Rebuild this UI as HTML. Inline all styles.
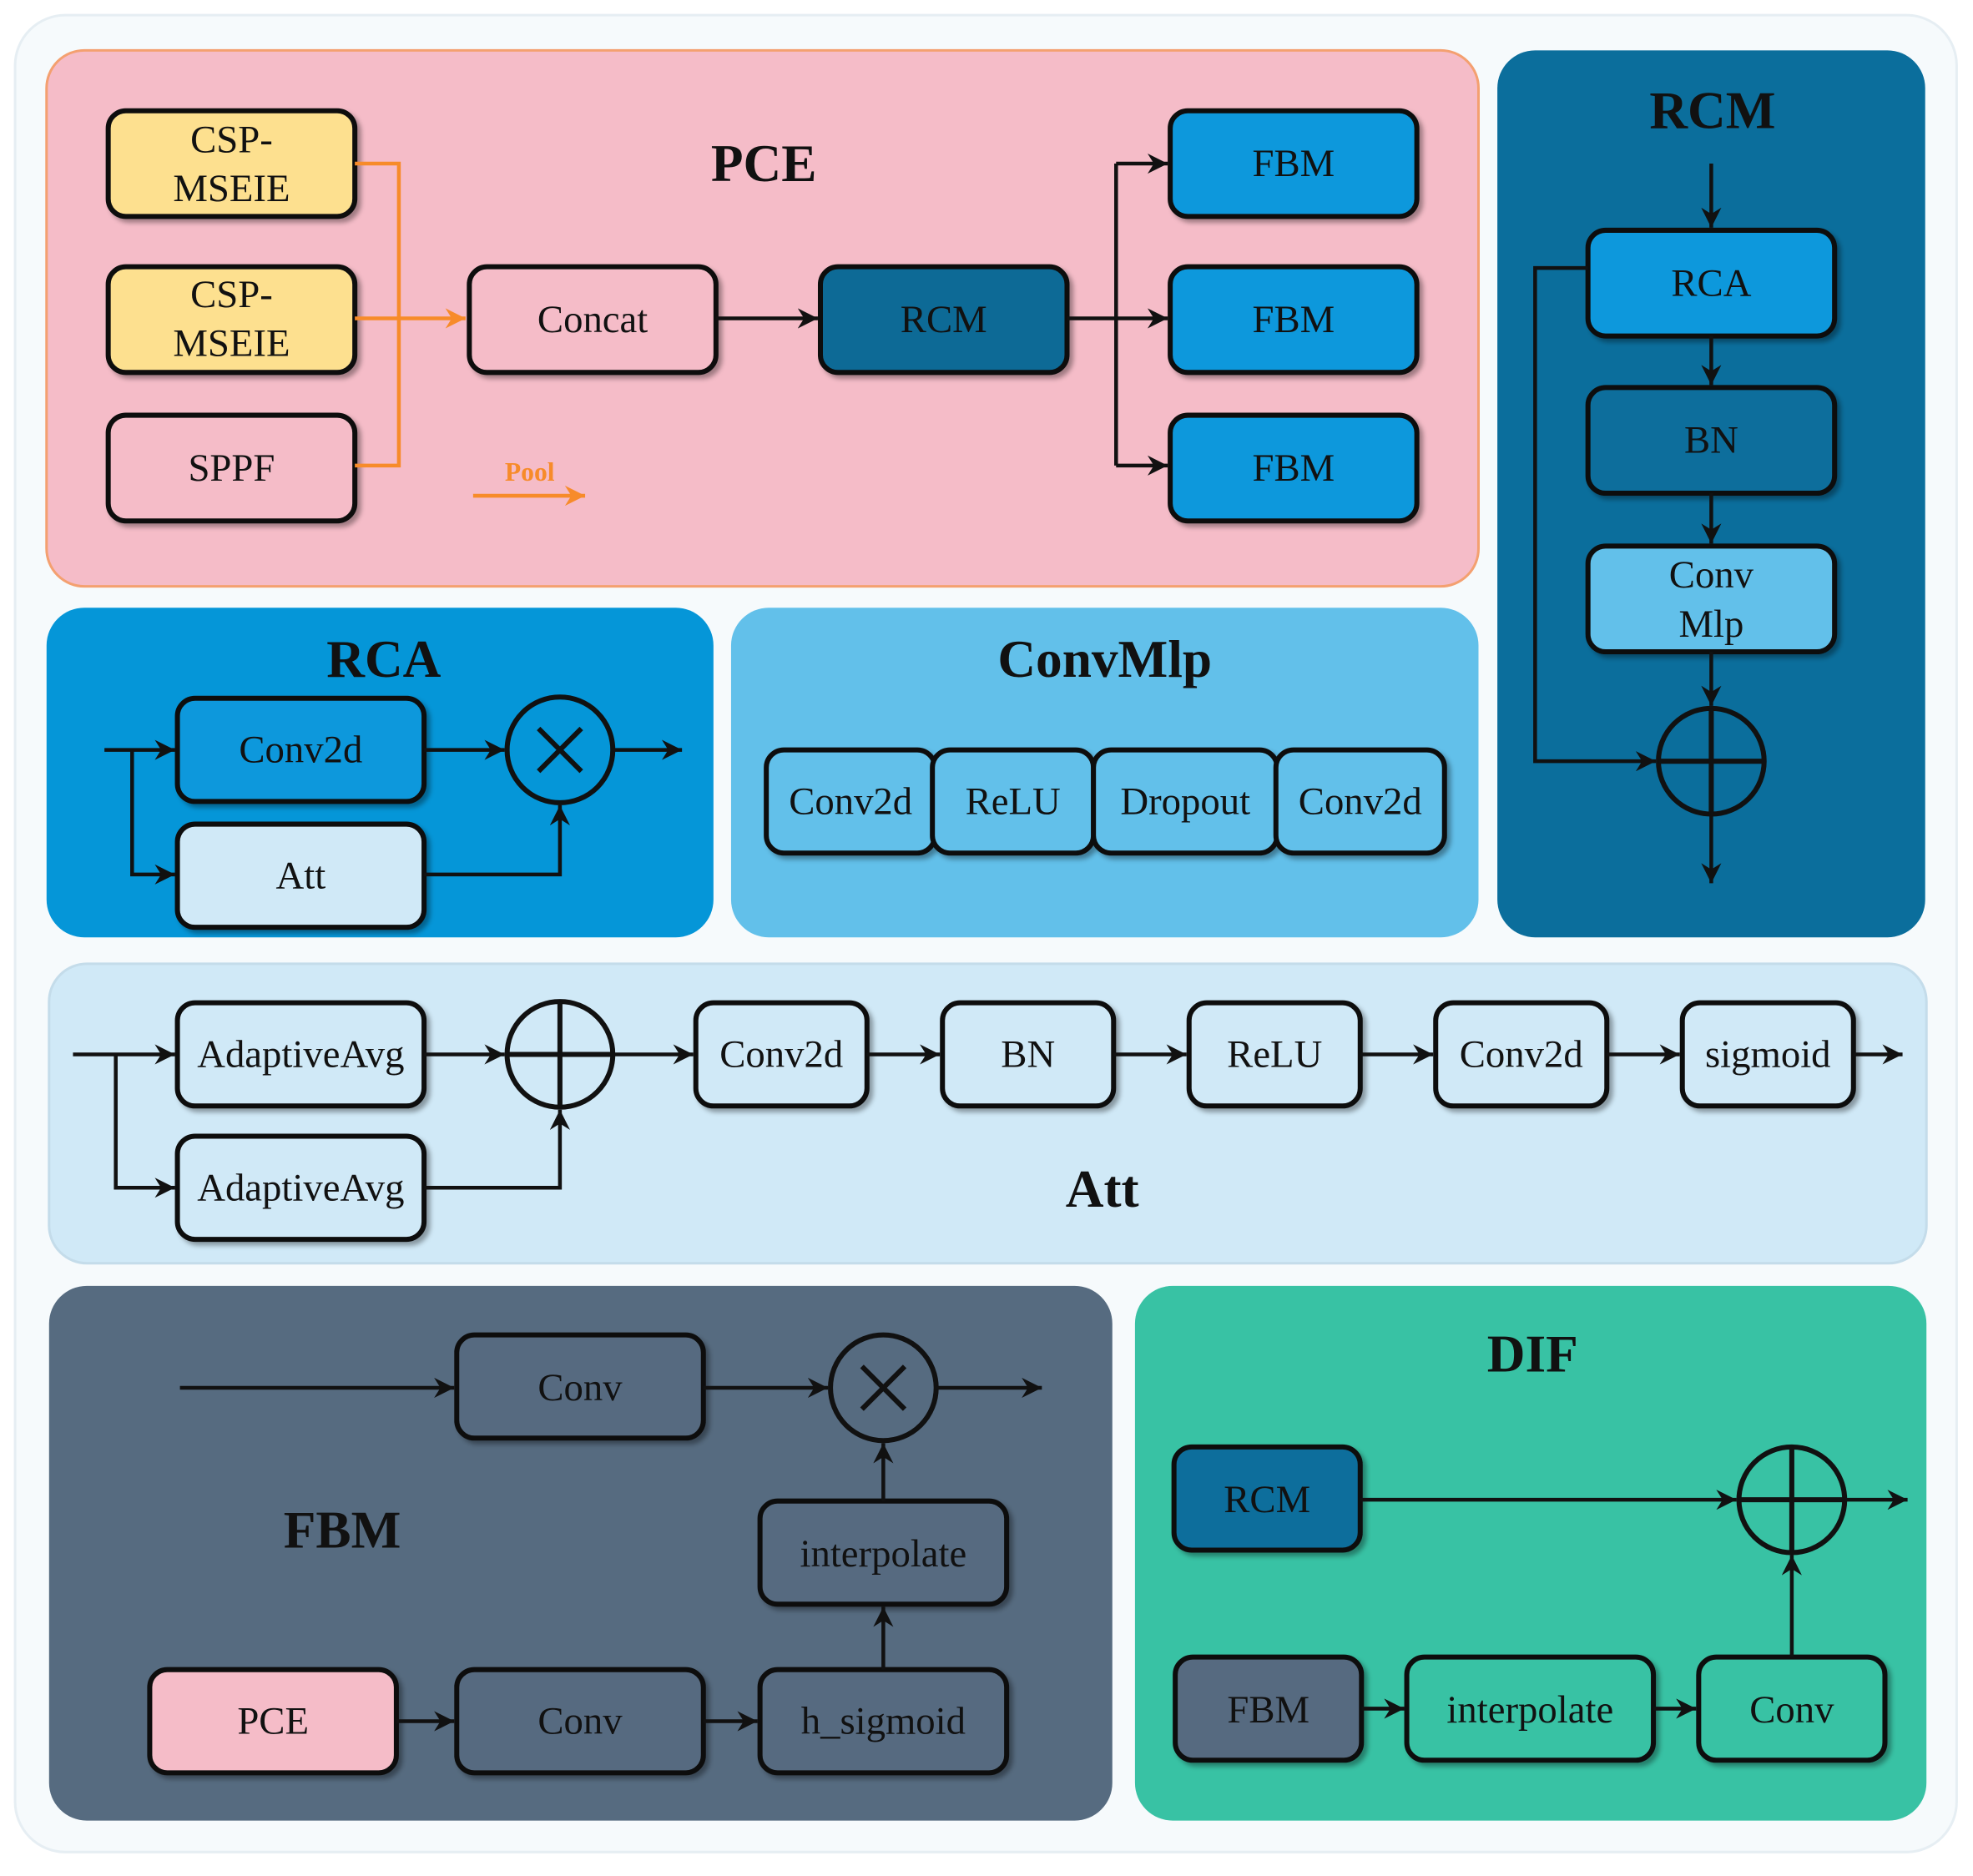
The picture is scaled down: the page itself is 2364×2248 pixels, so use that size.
<!DOCTYPE html>
<html><head><meta charset="utf-8"><style>
html,body{margin:0;padding:0;background:#fff;}
svg{display:block;}
text{font-family:"Liberation Serif",serif;fill:#111;}
.t{font-size:31px;text-anchor:middle;dominant-baseline:central;}
.h{font-size:42px;font-weight:bold;text-anchor:middle;dominant-baseline:central;}
.b{stroke:#111;stroke-width:4;}
.l{stroke:#111;stroke-width:3;fill:none;}
.o{stroke:#f78b2a;stroke-width:3;fill:none;}
</style></head><body>
<svg width="2364" height="2248" viewBox="0 0 1568 1491" xmlns="http://www.w3.org/2000/svg">
<defs>
<marker id="a" markerWidth="10" markerHeight="10" refX="9" refY="5" orient="auto" markerUnits="userSpaceOnUse" viewBox="0 0 10 10"><path d="M0,0 L10,5 L0,10 L3,5 z" fill="#111" transform="scale(1.6) translate(-4,-1.9)"/></marker>
<marker id="ao" markerWidth="18" markerHeight="16" refX="16" refY="8" orient="auto" markerUnits="userSpaceOnUse"><path d="M0,0 L16,8 L0,16 L5,8 z" fill="#f78b2a"/></marker>
<marker id="ak" markerWidth="18" markerHeight="16" refX="16" refY="8" orient="auto" markerUnits="userSpaceOnUse"><path d="M0,0 L16,8 L0,16 L5,8 z" fill="#111"/></marker>
<filter id="s" x="-10%" y="-10%" width="130%" height="130%"><feDropShadow dx="3" dy="3" stdDeviation="2" flood-opacity="0.35"/></filter>
</defs>
<rect x="12" y="12" width="1543" height="1460" rx="40" fill="#f6fafc" stroke="#e6eef3" stroke-width="2"/>

<!-- PCE -->
<rect x="37" y="40" width="1138" height="426" rx="30" fill="#f5bcc8" stroke="#f4a070" stroke-width="2"/>
<text class="h" x="607" y="130">PCE</text>
<g filter="url(#s)">
<rect class="b" x="86" y="88" width="196" height="84" rx="14" fill="#fde08f"/>
<rect class="b" x="86" y="212" width="196" height="84" rx="14" fill="#fde08f"/>
<rect class="b" x="86" y="330" width="196" height="84" rx="14" fill="#f5bcc8"/>
<rect class="b" x="373" y="212" width="196" height="84" rx="14" fill="#f5bcc8"/>
<rect class="b" x="652" y="212" width="196" height="84" rx="14" fill="#0a6b96"/>
<rect class="b" x="930" y="88" width="196" height="84" rx="14" fill="#0898dc"/>
<rect class="b" x="930" y="212" width="196" height="84" rx="14" fill="#0898dc"/>
<rect class="b" x="930" y="330" width="196" height="84" rx="14" fill="#0898dc"/>
</g>
<text class="t" x="184" y="111">CSP-</text><text class="t" x="184" y="150">MSEIE</text>
<text class="t" x="184" y="234">CSP-</text><text class="t" x="184" y="273">MSEIE</text>
<text class="t" x="184" y="372">SPPF</text>
<text class="t" x="471" y="254">Concat</text>
<text class="t" x="750" y="254">RCM</text>
<text class="t" x="1028" y="130">FBM</text>
<text class="t" x="1028" y="254">FBM</text>
<text class="t" x="1028" y="372">FBM</text>
<path class="o" d="M282,130 H317 V370 H282"/>
<path class="o" d="M282,253 H370" marker-end="url(#ao)"/>
<text x="421" y="375" style="font-size:21px;font-weight:bold;fill:#f78b2a;text-anchor:middle;dominant-baseline:central">Pool</text>
<path class="o" d="M376,394 H465" marker-end="url(#ao)"/>
<path class="l" d="M569,253 H650" marker-end="url(#ak)"/>
<path class="l" d="M848,253 H928" marker-end="url(#ak)"/>
<path class="l" d="M887,130 V370"/>
<path class="l" d="M887,130 H928" marker-end="url(#ak)"/>
<path class="l" d="M887,370 H928" marker-end="url(#ak)"/>

<!-- RCM panel -->
<rect x="1190" y="40" width="340" height="705" rx="30" fill="#0b6e9c"/>
<text class="h" x="1361" y="88">RCM</text>
<g filter="url(#s)">
<rect class="b" x="1262" y="183" width="196" height="84" rx="14" fill="#0898dc"/>
<rect class="b" x="1262" y="308" width="196" height="84" rx="14" fill="#0b6e9c"/>
<rect class="b" x="1262" y="434" width="196" height="84" rx="14" fill="#62c0ea"/>
</g>
<text class="t" x="1360" y="225">RCA</text>
<text class="t" x="1360" y="350">BN</text>
<text class="t" x="1360" y="457">Conv</text><text class="t" x="1360" y="496">Mlp</text>
<path class="l" d="M1360,130 V181" marker-end="url(#ak)"/>
<path class="l" d="M1360,267 V306" marker-end="url(#ak)"/>
<path class="l" d="M1360,392 V432" marker-end="url(#ak)"/>
<path class="l" d="M1360,518 V561" marker-end="url(#ak)"/>
<circle class="b" cx="1360" cy="605" r="42" fill="none"/>
<path class="b" d="M1318,605 H1402 M1360,563 V647"/>
<path class="l" d="M1262,213 H1220 V605 H1316" marker-end="url(#ak)"/>
<path class="l" d="M1360,647 V702" marker-end="url(#ak)"/>

<!-- RCA -->
<rect x="37" y="483" width="530" height="262" rx="30" fill="#0596d8"/>
<text class="h" x="305" y="524">RCA</text>
<g filter="url(#s)">
<rect class="b" x="141" y="555" width="196" height="82" rx="14" fill="#0898dc"/>
<rect class="b" x="141" y="655" width="196" height="82" rx="14" fill="#d0e9f7"/>
</g>
<text class="t" x="239" y="596">Conv2d</text>
<text class="t" x="239" y="696">Att</text>
<circle class="b" cx="445" cy="596" r="42" fill="none"/>
<path class="b" d="M428,579 L462,613 M462,579 L428,613"/>
<path class="l" d="M83,596 H139" marker-end="url(#ak)"/>
<path class="l" d="M105,596 V695 H139" marker-end="url(#ak)"/>
<path class="l" d="M337,596 H401" marker-end="url(#ak)"/>
<path class="l" d="M337,695 H445 V640" marker-end="url(#ak)"/>
<path class="l" d="M487,596 H542" marker-end="url(#ak)"/>

<!-- ConvMlp -->
<rect x="581" y="483" width="594" height="262" rx="30" fill="#62c0ea"/>
<text class="h" x="878" y="524">ConvMlp</text>
<g filter="url(#s)" fill="#62c0ea">
<rect class="b" x="609" y="596" width="134" height="82" rx="14"/>
<rect class="b" x="741" y="596" width="128" height="82" rx="14"/>
<rect class="b" x="869" y="596" width="146" height="82" rx="14"/>
<rect class="b" x="1014" y="596" width="134" height="82" rx="14"/>
</g>
<text class="t" x="676" y="637">Conv2d</text>
<text class="t" x="805" y="637">ReLU</text>
<text class="t" x="942" y="637">Dropout</text>
<text class="t" x="1081" y="637">Conv2d</text>

<!-- Att -->
<rect x="39" y="766" width="1492" height="238" rx="30" fill="#d0e9f7" stroke="#c4dcea" stroke-width="2"/>
<text class="h" x="876" y="945">Att</text>
<g filter="url(#s)" fill="#d0e9f7">
<rect class="b" x="141" y="797" width="196" height="82" rx="14"/>
<rect class="b" x="141" y="903" width="196" height="82" rx="14"/>
<rect class="b" x="553" y="797" width="136" height="82" rx="14"/>
<rect class="b" x="749" y="797" width="136" height="82" rx="14"/>
<rect class="b" x="945" y="797" width="136" height="82" rx="14"/>
<rect class="b" x="1141" y="797" width="136" height="82" rx="14"/>
<rect class="b" x="1337" y="797" width="136" height="82" rx="14"/>
</g>
<text class="t" x="239" y="838">AdaptiveAvg</text>
<text class="t" x="239" y="944">AdaptiveAvg</text>
<text class="t" x="621" y="838">Conv2d</text>
<text class="t" x="817" y="838">BN</text>
<text class="t" x="1013" y="838">ReLU</text>
<text class="t" x="1209" y="838">Conv2d</text>
<text class="t" x="1405" y="838">sigmoid</text>
<circle class="b" cx="445" cy="838" r="42" fill="none"/>
<path class="b" d="M403,838 H487 M445,796 V880"/>
<path class="l" d="M58,838 H139" marker-end="url(#ak)"/>
<path class="l" d="M92,838 V944 H139" marker-end="url(#ak)"/>
<path class="l" d="M337,838 H401" marker-end="url(#ak)"/>
<path class="l" d="M337,944 H445 V882" marker-end="url(#ak)"/>
<path class="l" d="M487,838 H551" marker-end="url(#ak)"/>
<path class="l" d="M689,838 H747" marker-end="url(#ak)"/>
<path class="l" d="M885,838 H943" marker-end="url(#ak)"/>
<path class="l" d="M1081,838 H1139" marker-end="url(#ak)"/>
<path class="l" d="M1277,838 H1335" marker-end="url(#ak)"/>
<path class="l" d="M1473,838 H1512" marker-end="url(#ak)"/>

<!-- FBM -->
<rect x="39" y="1022" width="845" height="425" rx="30" fill="#566b80"/>
<text class="h" x="272" y="1216">FBM</text>
<g filter="url(#s)">
<rect class="b" x="363" y="1061" width="196" height="82" rx="14" fill="#566b80"/>
<rect class="b" x="604" y="1193" width="196" height="82" rx="14" fill="#566b80"/>
<rect class="b" x="119" y="1327" width="196" height="82" rx="14" fill="#f5bcc8"/>
<rect class="b" x="363" y="1327" width="196" height="82" rx="14" fill="#566b80"/>
<rect class="b" x="604" y="1327" width="196" height="82" rx="14" fill="#566b80"/>
</g>
<text class="t" x="461" y="1103">Conv</text>
<text class="t" x="702" y="1235">interpolate</text>
<text class="t" x="217" y="1368">PCE</text>
<text class="t" x="461" y="1368">Conv</text>
<text class="t" x="702" y="1368">h_sigmoid</text>
<circle class="b" cx="702" cy="1103" r="42" fill="none"/>
<path class="b" d="M685,1086 L719,1120 M719,1086 L685,1120"/>
<path class="l" d="M143,1103 H361" marker-end="url(#ak)"/>
<path class="l" d="M559,1103 H658" marker-end="url(#ak)"/>
<path class="l" d="M744,1103 H828" marker-end="url(#ak)"/>
<path class="l" d="M702,1193 V1147" marker-end="url(#ak)"/>
<path class="l" d="M702,1327 V1277" marker-end="url(#ak)"/>
<path class="l" d="M315,1368 H361" marker-end="url(#ak)"/>
<path class="l" d="M559,1368 H602" marker-end="url(#ak)"/>

<!-- DIF -->
<rect x="902" y="1022" width="629" height="425" rx="30" fill="#38c2a4"/>
<text class="h" x="1218" y="1076">DIF</text>
<g filter="url(#s)">
<rect class="b" x="933" y="1150" width="148" height="82" rx="14" fill="#0b6e9c"/>
<rect class="b" x="934" y="1317" width="148" height="82" rx="14" fill="#566b80"/>
<rect class="b" x="1118" y="1317" width="196" height="82" rx="14" fill="#38c2a4"/>
<rect class="b" x="1350" y="1317" width="148" height="82" rx="14" fill="#38c2a4"/>
</g>
<text class="t" x="1007" y="1192">RCM</text>
<text class="t" x="1008" y="1359">FBM</text>
<text class="t" x="1216" y="1359">interpolate</text>
<text class="t" x="1424" y="1359">Conv</text>
<circle class="b" cx="1424" cy="1192" r="42" fill="none"/>
<path class="b" d="M1382,1192 H1466 M1424,1150 V1234"/>
<path class="l" d="M1081,1192 H1380" marker-end="url(#ak)"/>
<path class="l" d="M1466,1192 H1516" marker-end="url(#ak)"/>
<path class="l" d="M1082,1358 H1116" marker-end="url(#ak)"/>
<path class="l" d="M1314,1358 H1348" marker-end="url(#ak)"/>
<path class="l" d="M1424,1317 V1236" marker-end="url(#ak)"/>
</svg>
</body></html>
